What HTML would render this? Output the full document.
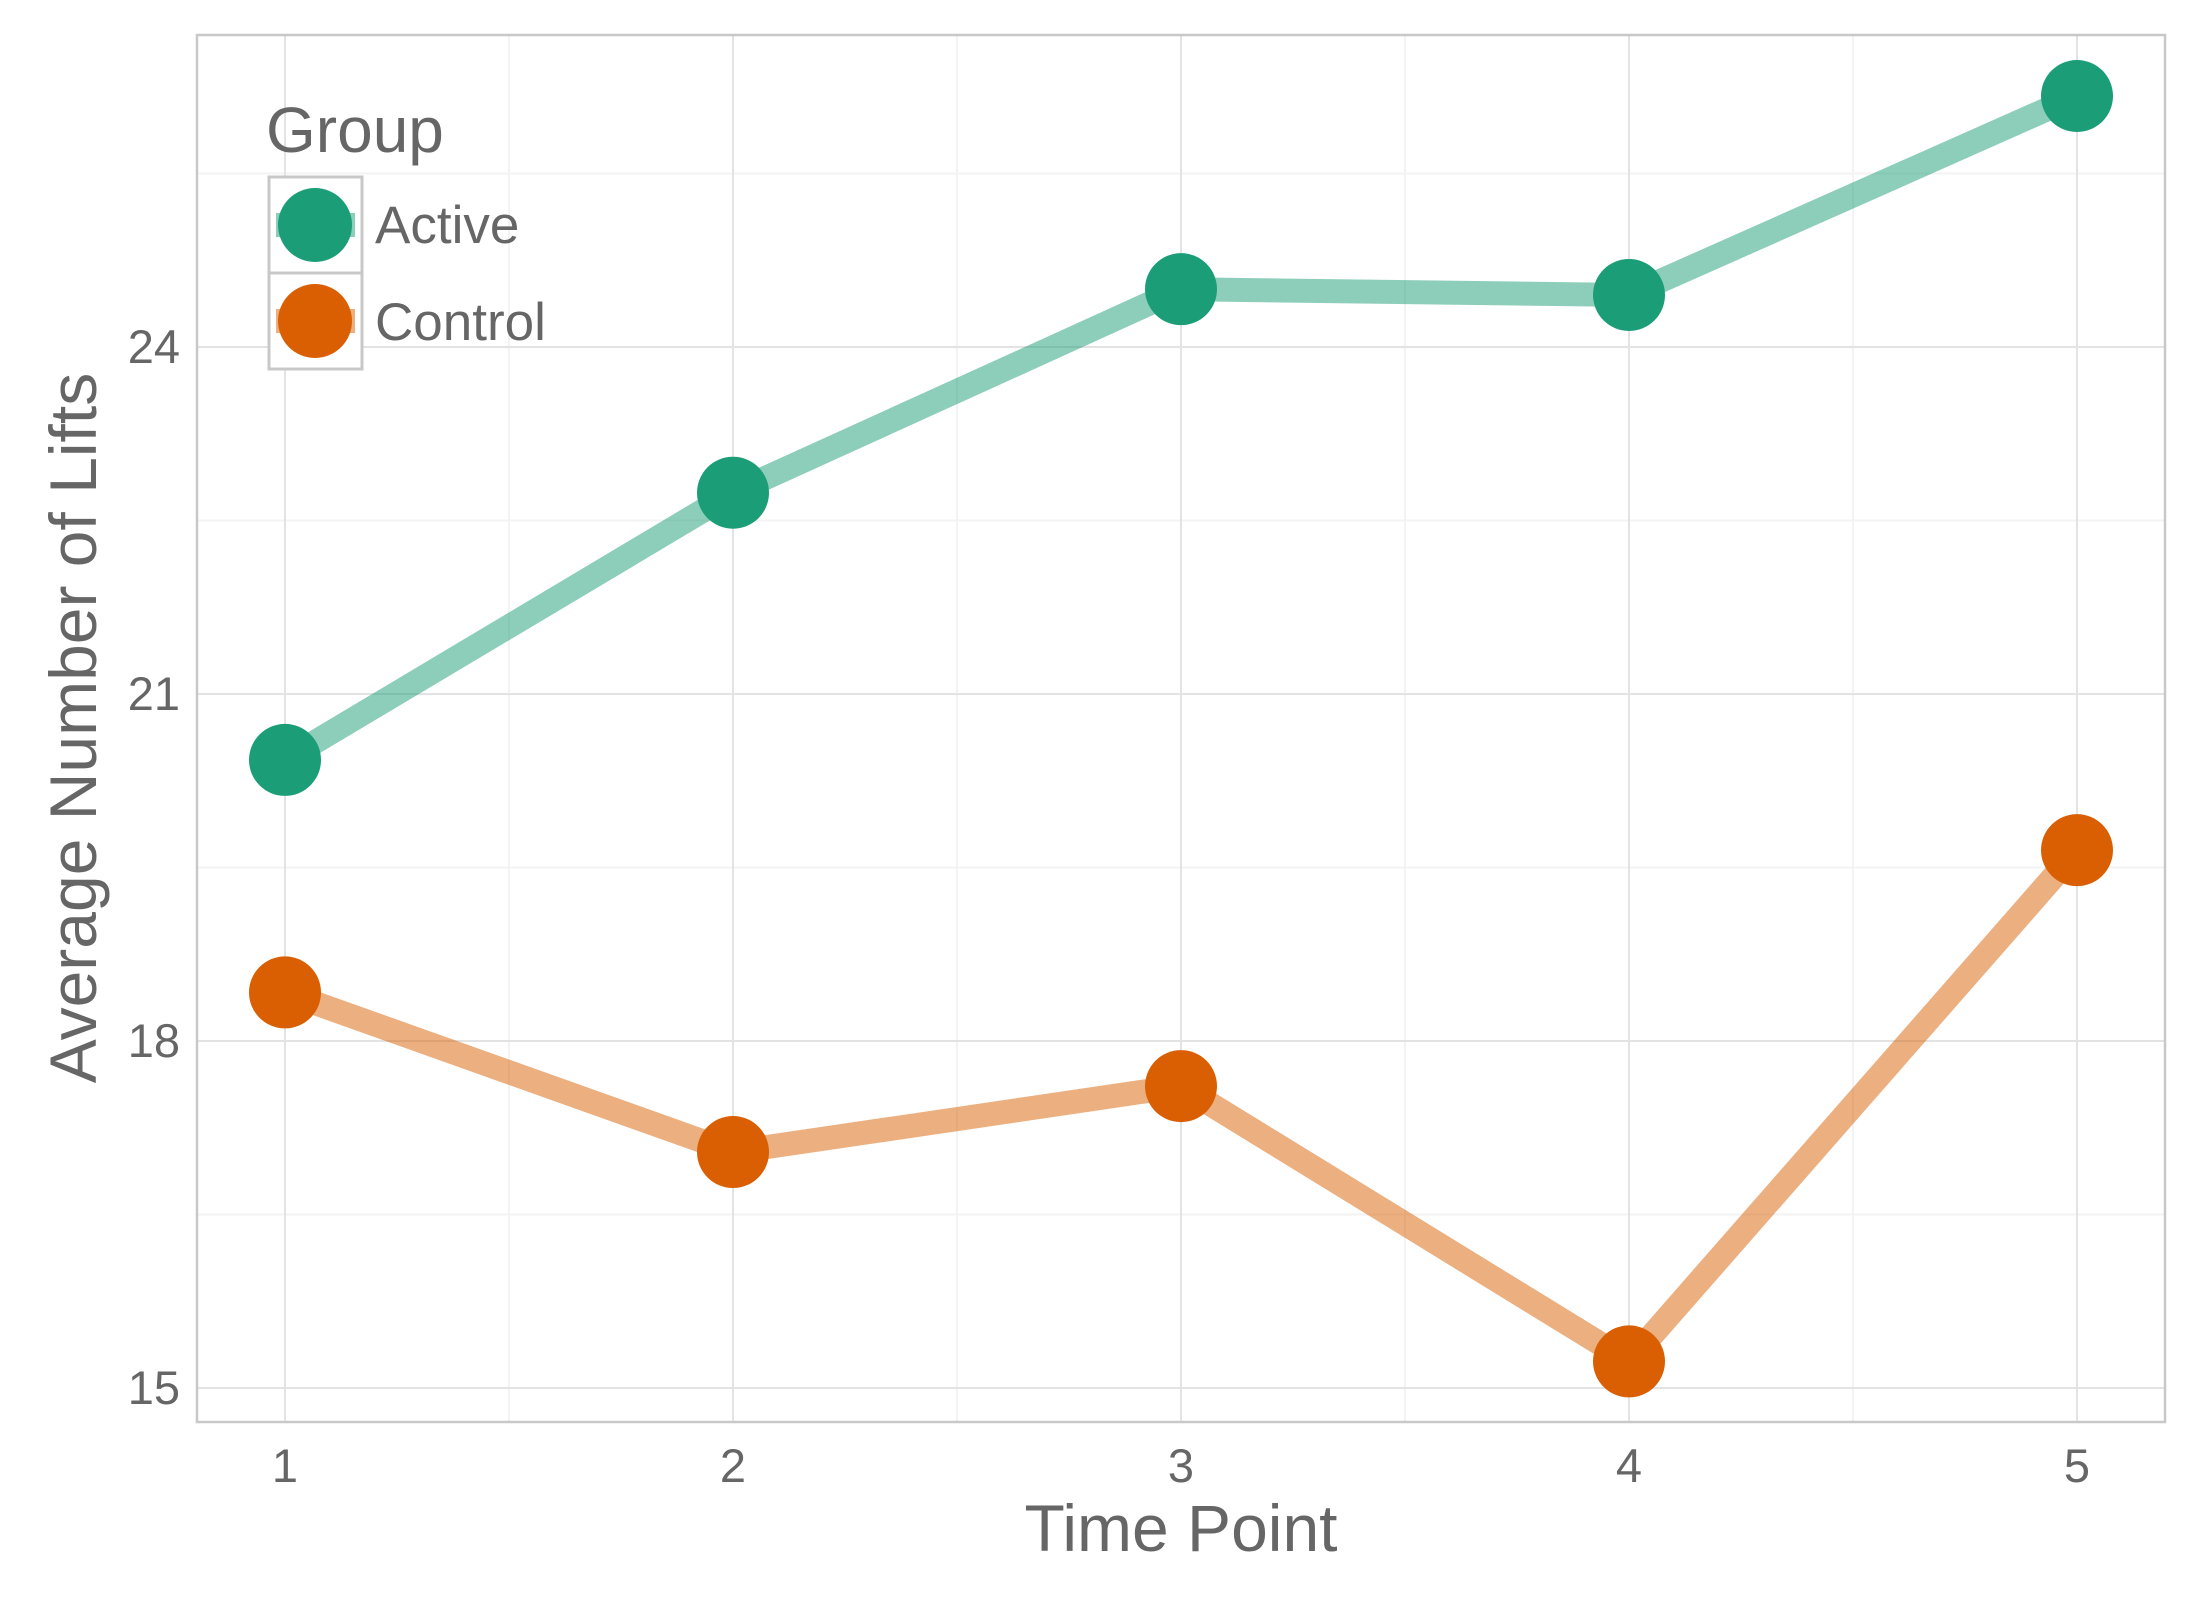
<!DOCTYPE html>
<html><head><meta charset="utf-8"><style>
html,body{margin:0;padding:0;background:#fff;}
svg{display:block;font-family:"Liberation Sans",sans-serif;}
</style></head><body>
<svg id="chart" width="2200" height="1600" viewBox="0 0 2200 1600" xmlns="http://www.w3.org/2000/svg">
<rect x="0" y="0" width="2200" height="1600" fill="#fff"/>
<g id="grid"></g>
<rect x="197" y="35" width="1968" height="1387" fill="none" stroke="#c8c8c8" stroke-width="2.5"/>
<g id="series"></g>
<g id="axes"></g>
<text x="1181" y="1551" font-size="66" fill="#666" text-anchor="middle">Time Point</text>
<text transform="translate(96,728) rotate(-90)" font-size="66" fill="#666" text-anchor="middle">Average Number of Lifts</text>
<g>
<text x="266" y="152" font-size="64" fill="#666">Group</text>
<rect x="269" y="177" width="93" height="192" fill="#fff" stroke="#c8c8c8" stroke-width="3"/>
<line x1="269" y1="273" x2="362" y2="273" stroke="#c8c8c8" stroke-width="3"/>
<g>
<line x1="276" y1="225" x2="355" y2="225" stroke="#1B9E77" stroke-opacity="0.5" stroke-width="24"/>
<circle cx="315" cy="225" r="37" fill="#1B9E77"/>
<text x="375" y="243" font-size="53" fill="#666">Active</text></g>
<g>
<line x1="276" y1="321" x2="355" y2="321" stroke="#D95F02" stroke-opacity="0.5" stroke-width="24"/>
<circle cx="315" cy="321" r="37" fill="#D95F02"/>
<text x="375" y="340" font-size="53" fill="#666">Control</text></g>
</g>
</svg>
<script>
const categories=[1,2,3,4,5];
const activeValues=[20.43,22.74,24.50,24.45,26.17];
const controlValues=[18.42,17.04,17.61,15.23,19.65];
const yTicks=[15,18,21,24];
const yMinor=[16.5,19.5,22.5,25.5];
const xMinor=[1.5,2.5,3.5,4.5];
const NS="http://www.w3.org/2000/svg";
function xs(v){return 285+(v-1)*(2077-285)/4;}
function ys(v){return 1388-(v-15)*(1388-347)/9;}
function mk(tag,attrs,parent){const e=document.createElementNS(NS,tag);for(const k in attrs)e.setAttribute(k,attrs[k]);parent.appendChild(e);return e;}
const grid=document.getElementById('grid'),series=document.getElementById('series'),axes=document.getElementById('axes');
yMinor.forEach(v=>{const l=mk('line',{x1:197,x2:2165,y1:ys(v),y2:ys(v),stroke:'#f3f3f3','stroke-width':2},grid);

});
xMinor.forEach(v=>{const l=mk('line',{x1:xs(v),x2:xs(v),y1:35,y2:1422,stroke:'#f3f3f3','stroke-width':2},grid);

});
yTicks.forEach(v=>{const l=mk('line',{x1:197,x2:2165,y1:ys(v),y2:ys(v),stroke:'#e3e3e3','stroke-width':2},grid);


const t=mk('text',{x:180,y:ys(v)+16,'font-size':47,fill:'#666','text-anchor':'end'},axes);t.textContent=v;

});
categories.forEach(v=>{const l=mk('line',{x1:xs(v),x2:xs(v),y1:35,y2:1422,stroke:'#e3e3e3','stroke-width':2},grid);


const t=mk('text',{x:xs(v),y:1482,'font-size':47,fill:'#666','text-anchor':'middle'},axes);t.textContent=v;

});
function drawSeries(vals,color,name){
const pts=vals.map((v,i)=>xs(categories[i])+','+ys(v)).join(' ');
const pl=mk('polyline',{points:pts,fill:'none',stroke:color,'stroke-opacity':0.5,'stroke-width':24},series);


vals.forEach((v,i)=>{const c=mk('circle',{cx:xs(categories[i]),cy:ys(v),r:36,fill:color},series);

});}
drawSeries(activeValues,'#1B9E77','active');
drawSeries(controlValues,'#D95F02','control');
</script>
</body></html>
